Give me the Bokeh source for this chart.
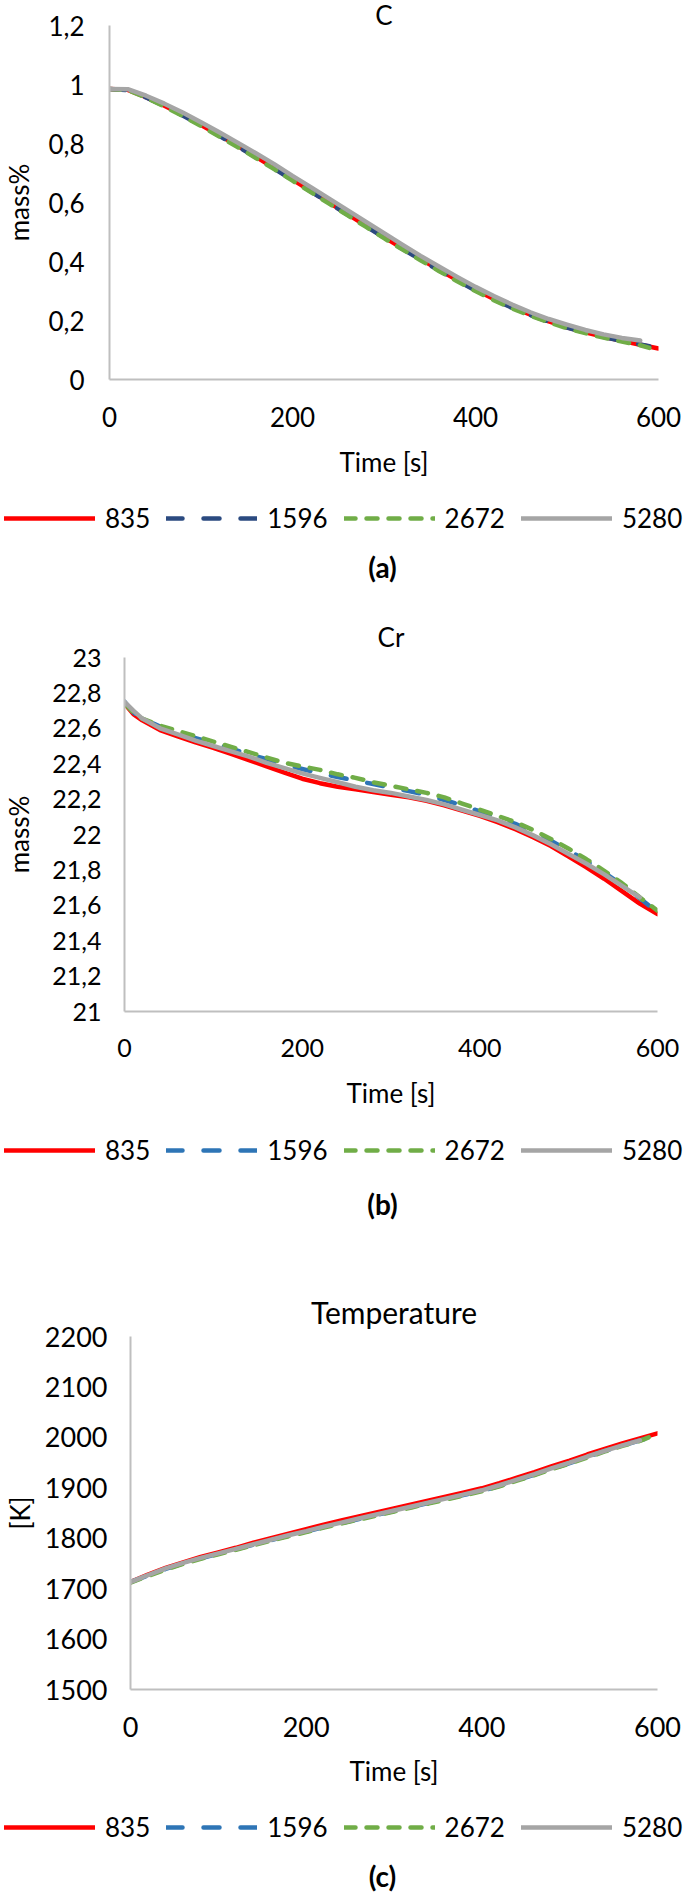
from bokeh.plotting import figure
from bokeh.models import Legend, LegendItem, FixedTicker, Range1d, Title, Label
from bokeh.layouts import column
from bokeh.embed import file_html
from bokeh.resources import INLINE

# ---------------- data ----------------
series_names = ["835", "1596", "2672", "5280"]

time_600 = [0, 20, 40, 60, 80, 100, 120, 140, 160, 180, 200, 220, 240, 260, 280, 300,
            320, 340, 360, 380, 400, 420, 440, 460, 480, 500, 520, 540, 560, 580, 600]
time_590 = [0, 20, 40, 60, 80, 100, 120, 140, 160, 180, 200, 220, 240, 260, 280, 300,
            320, 340, 360, 380, 400, 420, 440, 460, 480, 500, 520, 540, 560, 580, 590]
time_580 = [0, 20, 40, 60, 80, 100, 120, 140, 160, 180, 200, 220, 240, 260, 280, 300,
            320, 340, 360, 380, 400, 420, 440, 460, 480, 500, 520, 540, 560, 580]
cr_time_600 = [0, 10, 20, 40, 60, 80, 100, 120, 140, 160, 180, 200, 220, 240, 260, 280, 300,
               320, 340, 360, 380, 400, 420, 440, 460, 480, 500, 520, 540, 560, 580, 600]
cr_time_590 = [0, 10, 20, 40, 60, 80, 100, 120, 140, 160, 180, 200, 220, 240, 260, 280, 300,
               320, 340, 360, 380, 400, 420, 440, 460, 480, 500, 520, 540, 560, 580, 590]
cr_time_580 = [0, 10, 20, 40, 60, 80, 100, 120, 140, 160, 180, 200, 220, 240, 260, 280, 300,
               320, 340, 360, 380, 400, 420, 440, 460, 480, 500, 520, 540, 560, 580]

# (a) C mass%
c_835 = [0.985, 0.982, 0.957, 0.928, 0.897, 0.863, 0.828, 0.792, 0.755, 0.717, 0.678, 0.639,
         0.600, 0.561, 0.522, 0.483, 0.445, 0.408, 0.372, 0.337, 0.304, 0.273, 0.245, 0.220,
         0.197, 0.177, 0.160, 0.145, 0.131, 0.118, 0.105]
c_1596 = [0.985, 0.981, 0.956, 0.927, 0.895, 0.861, 0.826, 0.790, 0.753, 0.715, 0.676, 0.637,
          0.598, 0.559, 0.520, 0.481, 0.443, 0.406, 0.370, 0.335, 0.302, 0.271, 0.243, 0.218,
          0.196, 0.176, 0.159, 0.144, 0.131, 0.119, 0.113]
c_2672 = [0.985, 0.981, 0.955, 0.925, 0.893, 0.859, 0.824, 0.788, 0.751, 0.713, 0.674, 0.635,
          0.596, 0.557, 0.518, 0.479, 0.441, 0.404, 0.368, 0.333, 0.300, 0.269, 0.241, 0.216,
          0.194, 0.174, 0.157, 0.142, 0.129, 0.116, 0.107]
c_5280 = [0.985, 0.984, 0.962, 0.935, 0.905, 0.872, 0.838, 0.803, 0.767, 0.730, 0.690, 0.652,
          0.613, 0.574, 0.535, 0.496, 0.457, 0.419, 0.383, 0.348, 0.314, 0.283, 0.254, 0.228,
          0.205, 0.186, 0.168, 0.153, 0.141, 0.132]

# (b) Cr mass%
cr_835 = [22.74, 22.68, 22.645, 22.59, 22.555, 22.52, 22.49, 22.455, 22.42, 22.385, 22.35,
          22.315, 22.29, 22.27, 22.255, 22.24, 22.225, 22.21, 22.19, 22.165, 22.135, 22.105,
          22.07, 22.03, 21.985, 21.935, 21.875, 21.815, 21.75, 21.68, 21.61, 21.55]
cr_1596 = [22.75, 22.69, 22.655, 22.61, 22.575, 22.545, 22.515, 22.485, 22.455, 22.425, 22.395,
           22.37, 22.345, 22.325, 22.305, 22.285, 22.265, 22.245, 22.225, 22.195, 22.165, 22.13,
           22.095, 22.06, 22.015, 21.965, 21.91, 21.85, 21.785, 21.715, 21.64, 21.60]
cr_2672 = [22.74, 22.69, 22.655, 22.615, 22.585, 22.555, 22.525, 22.495, 22.465, 22.435, 22.405,
           22.385, 22.365, 22.34, 22.32, 22.295, 22.275, 22.255, 22.235, 22.21, 22.175, 22.14,
           22.105, 22.07, 22.025, 21.975, 21.92, 21.86, 21.795, 21.725, 21.645, 21.57]
cr_5280 = [22.75, 22.70, 22.655, 22.60, 22.565, 22.53, 22.50, 22.47, 22.44, 22.405, 22.375,
           22.345, 22.32, 22.295, 22.27, 22.25, 22.235, 22.215, 22.195, 22.17, 22.14, 22.11,
           22.08, 22.04, 21.995, 21.945, 21.89, 21.835, 21.775, 21.71, 21.645]

# (c) Temperature [K]
temp_835 = [1713, 1728, 1741, 1752, 1763, 1772, 1781, 1791, 1800, 1809, 1818, 1827, 1835, 1843,
            1851, 1859, 1867, 1875, 1883, 1891, 1899, 1909, 1920, 1931, 1943, 1954, 1966, 1977,
            1988, 1998, 2008]
temp_1596 = [1713, 1726, 1739, 1750, 1760, 1769, 1778, 1787, 1796, 1805, 1813, 1822, 1830, 1838,
             1846, 1854, 1862, 1870, 1878, 1886, 1894, 1904, 1915, 1926, 1938, 1949, 1961, 1973,
             1984, 1994, 1999]
temp_2672 = [1712, 1725, 1738, 1749, 1759, 1768, 1777, 1786, 1795, 1804, 1812, 1821, 1829, 1837,
             1845, 1853, 1861, 1869, 1877, 1885, 1893, 1903, 1914, 1925, 1937, 1948, 1960, 1972,
             1983, 1993, 2000]
temp_5280 = [1713, 1727, 1740, 1751, 1761, 1770, 1779, 1788, 1797, 1806, 1814, 1823, 1831, 1839,
             1847, 1855, 1863, 1871, 1879, 1887, 1895, 1905, 1916, 1927, 1939, 1950, 1962, 1973,
             1984, 1994]

x_ticks = [0, 200, 400, 600]
x_tick_labels = ["0", "200", "400", "600"]
c_ticks = [0, 0.2, 0.4, 0.6, 0.8, 1.0, 1.2]
c_tick_labels = ["0", "0,2", "0,4", "0,6", "0,8", "1", "1,2"]
cr_ticks = [21, 21.2, 21.4, 21.6, 21.8, 22, 22.2, 22.4, 22.6, 22.8, 23]
cr_tick_labels = ["21", "21,2", "21,4", "21,6", "21,8", "22", "22,2", "22,4", "22,6", "22,8", "23"]
temp_ticks = [1500, 1600, 1700, 1800, 1900, 2000, 2100, 2200]
temp_tick_labels = ["1500", "1600", "1700", "1800", "1900", "2000", "2100", "2200"]

# ---------------- styling ----------------
FONT = "Lato"
AXIS_COL = "#BFBFBF"
RED, GREEN, GRAY = "#FF0000", "#70AD47", "#A5A5A5"
LW = 4.5
W = 685
DASHES = ["solid", "16 21", "11 11", "solid"]
NAN = float("nan")


def main_panel(title, ylab, series, y_lo, y_hi, y_ticks, y_labels, blue, g):
    p = figure(width=W, height=g["H"], x_range=Range1d(0, 600), y_range=Range1d(y_lo, y_hi),
               output_backend="svg", toolbar_location=None,
               min_border_left=g["left"], min_border_right=g["right"],
               min_border_top=g["top"], min_border_bottom=g["bottom"])
    p.frame_align = False
    p.outline_line_color = None
    p.xgrid.grid_line_color = None
    p.ygrid.grid_line_color = None

    t = Title(text=title, align="center", vertical_align="middle", standoff=g["title_standoff"],
              text_font=FONT, text_font_size=g["title_fs"], text_font_style="normal",
              text_color="#000000")
    p.add_layout(t, "above")

    for ax in (p.xaxis[0], p.yaxis[0]):
        ax.axis_line_color = AXIS_COL
        ax.axis_line_width = 2
        ax.major_tick_line_color = None
        ax.minor_tick_line_color = None
        ax.major_tick_out = 0
        ax.major_tick_in = 0
        ax.major_label_text_font = FONT
        ax.major_label_text_font_size = g["tick_fs"]
        ax.major_label_text_color = "#000000"
        ax.axis_label_text_font = FONT
        ax.axis_label_text_font_size = "26px"
        ax.axis_label_text_font_style = "normal"
        ax.axis_label_text_color = "#000000"
    p.xaxis.ticker = FixedTicker(ticks=x_ticks)
    p.xaxis.major_label_overrides = dict(zip(x_ticks, x_tick_labels))
    p.xaxis.major_label_standoff = g["x_standoff"]
    p.xaxis.axis_label = "Time [s]"
    p.xaxis.axis_label_standoff = g["xlab_standoff"]
    p.yaxis.ticker = FixedTicker(ticks=y_ticks)
    p.yaxis.major_label_overrides = dict(zip(y_ticks, y_labels))
    p.yaxis.major_label_standoff = g["y_standoff"]
    p.yaxis.axis_label = ylab
    p.yaxis.axis_label_standoff = g["ylab_standoff"]

    colors = [RED, blue, GREEN, GRAY]
    for (xs, ys), col, dash in zip(series, colors, DASHES):
        p.line(xs, ys, line_color=col, line_width=LW, line_dash=dash,
               line_cap="round", line_join="round")
    return p


def legend_panel(caption, blue, h, legend_bottom, caption_y):
    # strip under a chart: the series key and the panel caption
    q = figure(width=W, height=h, x_range=Range1d(0, W), y_range=Range1d(0, h),
               output_backend="svg", toolbar_location=None, min_border=0,
               x_axis_type=None, y_axis_type=None)
    q.frame_align = False
    q.outline_line_color = None
    q.xgrid.grid_line_color = None
    q.ygrid.grid_line_color = None
    colors = [RED, blue, GREEN, GRAY]
    items = []
    for name, col, dash in zip(series_names, colors, DASHES):
        # key-only renderer: a single undefined point, nothing is drawn in the frame
        r = q.line(x=[NAN], y=[NAN], line_color=col, line_width=LW, line_dash=dash,
                   line_cap="round", line_join="round")
        items.append(LegendItem(label=name, renderers=[r]))
    legend = Legend(items=items, orientation="horizontal", location=(4, legend_bottom),
                    glyph_width=91, glyph_height=30, label_height=30, label_width=0,
                    label_standoff=10, spacing=16, padding=0, margin=0,
                    border_line_color=None, background_fill_alpha=0,
                    label_text_font=FONT, label_text_font_size="26px",
                    label_text_color="#000000")
    q.add_layout(legend, "center")
    q.add_layout(Label(x=382, y=caption_y, text=caption, text_font=FONT,
                       text_font_size="28px", text_font_style="bold",
                       text_align="center", text_baseline="middle", text_color="#000000"))
    return q


geo_a = dict(H=494, left=103, right=27, top=25, bottom=115, tick_fs="26px", title_fs="26px",
             title_standoff=-13, x_standoff=27, xlab_standoff=16, y_standoff=25, ylab_standoff=10)
geo_b = dict(H=526, left=117, right=28, top=57, bottom=115, tick_fs="25px", title_fs="26px",
             title_standoff=7, x_standoff=27, xlab_standoff=17, y_standoff=23, ylab_standoff=14)
geo_c = dict(H=574, left=127, right=28, top=106, bottom=115, tick_fs="27px", title_fs="30px",
             title_standoff=12, x_standoff=27, xlab_standoff=15, y_standoff=23, ylab_standoff=6)

pa = main_panel("C", "mass%",
                [(time_600, c_835), (time_590, c_1596), (time_590, c_2672), (time_580, c_5280)],
                0, 1.2, c_ticks, c_tick_labels, "#2B4A80", geo_a)
la = legend_panel("(a)", "#2B4A80", 106, 66, 34)
pb = main_panel("Cr", "mass%",
                [(cr_time_600, cr_835), (cr_time_590, cr_1596), (cr_time_600, cr_2672),
                 (cr_time_580, cr_5280)],
                21, 23, cr_ticks, cr_tick_labels, "#2E75B6", geo_b)
lb = legend_panel("(b)", "#2E75B6", 104, 64, 27)
pc = main_panel("Temperature", "[K]",
                [(time_600, temp_835), (time_590, temp_1596), (time_590, temp_2672),
                 (time_580, temp_5280)],
                1500, 2200, temp_ticks, temp_tick_labels, "#2E75B6", geo_c)
lc = legend_panel("(c)", "#2E75B6", 90, 51, 19)

layout = column(pa, la, pb, lb, pc, lc, spacing=0)
open("out.html", "w").write(file_html(layout, INLINE))
